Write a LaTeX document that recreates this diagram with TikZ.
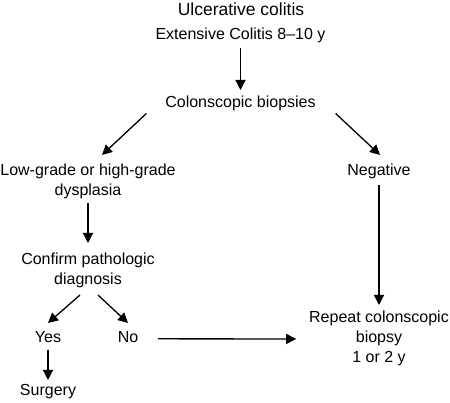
\documentclass[tikz,border=0pt]{standalone}
\usepackage{fontspec}
\setmainfont{Liberation Sans}
\usetikzlibrary{arrows.meta,calc}
\begin{document}
\begin{tikzpicture}[x=1pt,y=-1pt,
  txt/.style={inner sep=0pt,outer sep=0pt,anchor=north,align=center,font=\fontsize{16}{20}\selectfont},
  arr/.style={line width=1.3pt,-{Triangle[length=10pt,width=10pt]}}]
\useasboundingbox (0,0) rectangle (450,403);
\node[txt,font=\fontsize{17.5}{21}\selectfont] (uc) at (241,3) {Ulcerative colitis};
\node[txt] (ext) at (240.5,27.5) {Extensive Colitis 8--10 y};
\node[txt] (cb) at (240.5,96) {Colonscopic biopsies};
\node[txt] (lg) at (88,163.5) {Low-grade or high-grade\\dysplasia};
\node[txt] (neg) at (379,163.5) {Negative};
\node[txt] (conf) at (88,252.5) {Confirm pathologic\\diagnosis};
\node[txt] (yes) at (48,331.5) {Yes};
\node[txt] (no) at (128,331.5) {No};
\node[txt] (surg) at (48,384.5) {Surgery};
\node[txt] (rep) at (379,310.5) {Repeat colonscopic\\biopsy\\1 or 2 y};
\draw[arr] ($(ext.south)+(0,5.6)$) -- ($(cb.north)+(0,-6)$);
\draw[arr] ($(cb.south west)+(-19,2.6)$) -- ($(lg.north)+(14,-8.5)$);
\draw[arr] ($(cb.south east)+(20,2.6)$) -- ($(neg.north)+(1,-8.5)$);
\draw[arr] ($(lg.south)+(0,5)$) -- ($(conf.north)+(0,-9.5)$);
\draw[arr] ($(neg.south)+(0,6.6)$) -- ($(rep.north)+(0,-5.5)$);
\draw[arr] ($(conf.south)+(-8,7.6)$) -- ($(yes.north)+(0,-8.5)$);
\draw[arr] ($(conf.south)+(10,7.6)$) -- ($(no.north)+(0,-8.5)$);
\draw[arr] ($(yes.south)+(0,7)$) -- ($(surg.north)+(0,-4.5)$);
\draw[arr] ($(no.east)+(20,1.75)$) -- ($(rep.west)+(-13,1)$);
\end{tikzpicture}
\end{document}
